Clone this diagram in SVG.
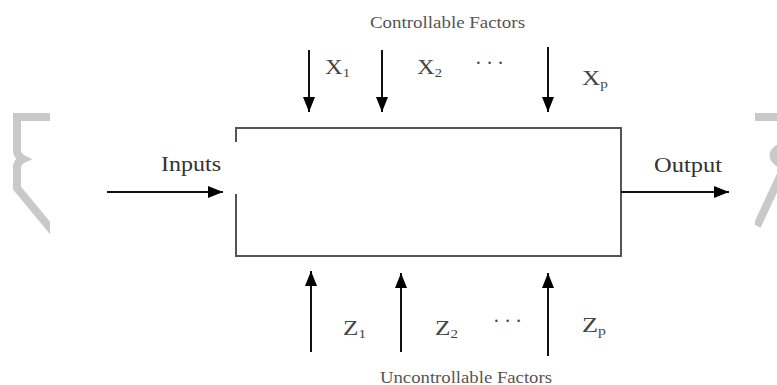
<svg xmlns="http://www.w3.org/2000/svg" width="777" height="385" viewBox="0 0 777 385">
<style>
.box{fill:none;stroke:#555;stroke-width:2}
.arr{fill:none;stroke:#111;stroke-width:2;marker-end:url(#ah)}
.wm{fill:none;stroke:#c9c9c9;stroke-width:8}
text{font-family:"Liberation Serif","Times New Roman",serif;fill:#333}
.big{font-size:22px}
.cap{font-size:16px;fill:#555}
.lab{font-size:20px;fill:#444}
.sub{font-size:12px}
.dots{font-size:20px;fill:#444}
</style>
<defs>
<marker id="ah" viewBox="0 0 15 12" refX="15" refY="6" markerWidth="15" markerHeight="12" orient="auto" markerUnits="userSpaceOnUse">
<path d="M0,0 L15,6 L0,12 Z" fill="#000"/>
</marker>
<clipPath id="cl"><rect x="0" y="0" width="50" height="385"/></clipPath>
<clipPath id="cr"><rect x="755" y="0" width="22" height="385"/></clipPath>
</defs>
<g id="watermark-left" clip-path="url(#cl)">
<path class="wm" d="M52,117 L17,117 L17,150 Q17,156 23,159 Q16,162 17,170 L17,188 L55,234"/>
</g>
<g id="watermark-right" clip-path="url(#cr)">
<path class="wm" d="M755,117 L780,117"/>
<path class="wm" d="M779,148 Q768,155 779,163"/>
<path class="wm" d="M783,170 L757,226"/>
</g>
<g id="process">
<path class="box" d="M236,142 L236,128 L621,128 L621,256 L236,256 L236,194"/>
</g>
<g id="connectors">
<line class="arr" x1="107" y1="192" x2="223" y2="192"/>
<line class="arr" x1="621" y1="192" x2="729" y2="192"/>
<line class="arr" x1="309" y1="50" x2="309" y2="112"/>
<line class="arr" x1="382" y1="50" x2="382" y2="112"/>
<line class="arr" x1="548" y1="47" x2="548" y2="112"/>
<line class="arr" x1="311" y1="352" x2="311" y2="271"/>
<line class="arr" x1="401" y1="352" x2="401" y2="273"/>
<line class="arr" x1="548" y1="356" x2="548" y2="273"/>
</g>
<g id="labels">
<text class="cap" x="370" y="28" textLength="155" lengthAdjust="spacingAndGlyphs">Controllable Factors</text>
<text class="cap" x="380" y="383" textLength="172" lengthAdjust="spacingAndGlyphs">Uncontrollable Factors</text>
<text class="big" x="161" y="171" textLength="60" lengthAdjust="spacingAndGlyphs">Inputs</text>
<text class="big" x="654" y="172" textLength="68" lengthAdjust="spacingAndGlyphs">Output</text>
<text class="lab" x="325" y="74" textLength="25" lengthAdjust="spacingAndGlyphs">X<tspan class="sub" dy="3">1</tspan></text>
<text class="lab" x="417" y="74" textLength="25" lengthAdjust="spacingAndGlyphs">X<tspan class="sub" dy="3">2</tspan></text>
<text class="dots" x="475" y="70" textLength="29" lengthAdjust="spacing">· · ·</text>
<text class="lab" x="582" y="85" textLength="26" lengthAdjust="spacingAndGlyphs">X<tspan class="sub" dy="3">p</tspan></text>
<text class="lab" x="343" y="335" textLength="23" lengthAdjust="spacingAndGlyphs">Z<tspan class="sub" dy="3">1</tspan></text>
<text class="lab" x="435" y="335" textLength="23" lengthAdjust="spacingAndGlyphs">Z<tspan class="sub" dy="3">2</tspan></text>
<text class="dots" x="493" y="328" textLength="29" lengthAdjust="spacing">· · ·</text>
<text class="lab" x="582" y="332" textLength="24" lengthAdjust="spacingAndGlyphs">Z<tspan class="sub" dy="3">p</tspan></text>
</g>
</svg>
